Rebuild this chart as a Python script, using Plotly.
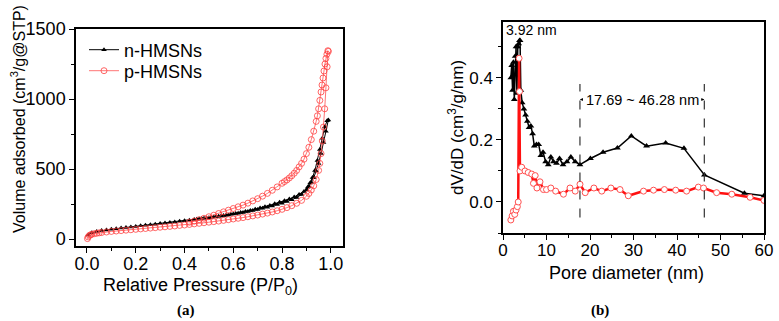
import plotly.graph_objects as go

# ---------- (a) N2 isotherms ----------
n_ads_p = [0.005, 0.02, 0.04, 0.06, 0.08, 0.10, 0.12, 0.14, 0.16, 0.18, 0.20, 0.22, 0.24, 0.26, 0.28,
           0.30, 0.32, 0.34, 0.36, 0.38, 0.40, 0.42, 0.44, 0.46, 0.48, 0.50, 0.52, 0.54, 0.56, 0.58,
           0.60, 0.62, 0.64, 0.66, 0.68, 0.70, 0.72, 0.74, 0.76, 0.78, 0.80, 0.82, 0.84, 0.86, 0.88,
           0.90, 0.91, 0.92, 0.93, 0.94, 0.95, 0.96, 0.97, 0.98, 0.99]
n_ads_v = [28, 45, 54, 60, 65, 70, 74, 78, 82, 86, 90, 94, 98, 102, 106,
           110, 114, 118, 122, 126, 130, 134, 139, 143, 148, 152, 157, 162, 167, 172,
           178, 184, 190, 197, 204, 211, 219, 227, 236, 246, 256, 267, 280, 296, 318,
           350, 375, 405, 440, 485, 540, 610, 690, 770, 850]
n_des_p = [0.985, 0.975, 0.965, 0.955, 0.945, 0.935, 0.925, 0.915, 0.905, 0.89, 0.87, 0.85, 0.83,
           0.81, 0.79, 0.77, 0.75, 0.73, 0.71, 0.69, 0.67, 0.65, 0.63, 0.61, 0.59, 0.57, 0.55,
           0.53, 0.51, 0.49, 0.47, 0.45]
n_des_v = [845, 800, 720, 640, 560, 490, 440, 400, 370, 340, 318, 300, 286,
           273, 262, 251, 240, 230, 221, 212, 204, 196, 189, 182, 176, 170, 165,
           160, 155, 150, 146, 141]

p_ads_p = [0.002, 0.005, 0.01, 0.015, 0.02, 0.03, 0.04, 0.05, 0.06, 0.08, 0.10, 0.12, 0.14, 0.16,
           0.18, 0.20, 0.22, 0.24, 0.26, 0.28, 0.30, 0.32, 0.34, 0.36, 0.38, 0.40, 0.42, 0.44,
           0.46, 0.48, 0.50, 0.52, 0.54, 0.56, 0.58, 0.60, 0.62, 0.64, 0.66, 0.68, 0.70, 0.72,
           0.74, 0.76, 0.78, 0.80, 0.82, 0.84, 0.86, 0.88, 0.90, 0.91, 0.92, 0.93, 0.94, 0.95,
           0.955, 0.96, 0.965, 0.97, 0.975, 0.98, 0.985, 0.99]
p_ads_v = [3, 15, 25, 30, 34, 38, 41, 44, 46, 50, 54, 57, 60, 63,
           66, 69, 72, 75, 78, 81, 84, 87, 90, 93, 97, 100, 104, 108,
           112, 116, 120, 124, 128, 133, 138, 143, 148, 153, 159, 165, 171, 178,
           185, 193, 202, 212, 224, 238, 255, 276, 305, 325, 350, 380, 425, 490,
           540, 610, 700, 800, 930, 1080, 1230, 1340]
p_des_p = [0.988, 0.984, 0.98, 0.976, 0.972, 0.968, 0.964, 0.96, 0.955, 0.95, 0.945, 0.94, 0.93,
           0.92, 0.91, 0.90, 0.89, 0.88, 0.87, 0.86, 0.85, 0.84, 0.83, 0.82, 0.81, 0.80, 0.78,
           0.76, 0.74, 0.72, 0.70, 0.68, 0.66, 0.64, 0.62, 0.60, 0.58, 0.56, 0.54, 0.52, 0.50,
           0.48, 0.46, 0.44, 0.42]
p_des_v = [1345, 1320, 1290, 1250, 1200, 1150, 1100, 1050, 990, 930, 880, 840, 770,
           710, 655, 610, 570, 540, 515, 490, 470, 452, 436, 422, 410, 398, 372,
           348, 326, 306, 288, 272, 256, 242, 230, 218, 206, 194, 182, 170, 159,
           148, 138, 128, 120]

# ---------- (b) pore size distribution ----------
n_psd_d = [1.8, 2.0, 2.2, 2.4, 2.6, 2.8, 3.0, 3.2, 3.4, 3.6, 3.8, 3.92, 4.1, 4.4, 4.8, 5.2, 5.6,
           6.0, 6.4, 6.8, 7.2, 7.7, 8.2, 8.7, 9.2, 9.8, 10.4, 11.0, 11.6, 12.3, 13.0, 13.8,
           14.7, 15.6, 16.6, 17.69, 20.1, 23.0, 26.3, 29.5, 33.0, 37.4, 41.6, 46.3, 55.5, 60.0]
n_psd_v = [0.40, 0.44, 0.36, 0.45, 0.33, 0.47, 0.50, 0.35, 0.50, 0.51, 0.52, 0.52, 0.36, 0.32,
           0.30, 0.28, 0.26, 0.24, 0.245, 0.22, 0.18, 0.185, 0.185, 0.15, 0.16, 0.13, 0.12,
           0.145, 0.13, 0.125, 0.14, 0.12, 0.13, 0.145, 0.13, 0.12, 0.14, 0.16, 0.174, 0.213,
           0.18, 0.19, 0.173, 0.087, 0.028, 0.02]
p_psd_d = [1.8, 2.1, 2.4, 2.7, 3.0, 3.3, 3.5, 3.7, 3.8, 3.9, 4.3, 5.06, 5.8, 6.6, 7.0, 7.4, 7.8,
           8.5, 9.3, 10.0, 11.0, 12.1, 13.9, 15.4, 16.6, 17.7, 18.9, 20.9, 22.7, 24.8, 26.9,
           28.8, 32.3, 34.6, 37.1, 39.7, 42.2, 44.9, 46.1, 49.1, 52.6, 56.8, 60.0]
p_psd_v = [-0.058, -0.045, -0.03, -0.04, -0.026, -0.015, 0.0, 0.463, 0.356, 0.10, 0.112, 0.10,
           0.095, 0.09, 0.06, 0.085, 0.045, 0.065, 0.04, 0.04, 0.045, 0.035, 0.025, 0.045,
           0.035, 0.057, 0.03, 0.045, 0.035, 0.045, 0.04, 0.02, 0.035, 0.038, 0.04, 0.038,
           0.035, 0.048, 0.045, 0.03, 0.025, 0.015, 0.005]

range_lo, range_hi = 17.69, 46.28

FONT = "Liberation Sans, Arial, sans-serif"
W, H = 779, 321
fig = go.Figure()

fig.add_trace(go.Scatter(x=n_ads_p + n_des_p, y=n_ads_v + n_des_v, name="n-HMSNs",
                         mode="lines+markers", line=dict(color="black", width=1),
                         marker=dict(symbol="triangle-up", size=5, color="black"),
                         xaxis="x", yaxis="y", legend="legend"))
fig.add_trace(go.Scatter(x=p_ads_p + p_des_p, y=p_ads_v + p_des_v, name="p-HMSNs",
                         mode="lines+markers", line=dict(color="#ff5050", width=0.8),
                         marker=dict(symbol="circle-open", size=6, color="#ff4040",
                                     line=dict(width=0.8)),
                         xaxis="x", yaxis="y", legend="legend2"))

fig.add_trace(go.Scatter(x=n_psd_d, y=n_psd_v, mode="lines+markers", showlegend=False,
                         line=dict(color="black", width=1.5),
                         marker=dict(symbol="triangle-up", size=6, color="black"),
                         xaxis="x2", yaxis="y2"))
fig.add_trace(go.Scatter(x=p_psd_d, y=p_psd_v, mode="lines+markers", showlegend=False,
                         line=dict(color="#ff1010", width=2.5),
                         marker=dict(symbol="circle", size=6, color="white",
                                     line=dict(color="#ff5050", width=1)),
                         xaxis="x2", yaxis="y2"))


def ax_style(size):
    return dict(showline=True, linecolor="black", linewidth=1.5, mirror=True,
                ticks="outside", ticklen=5, tickwidth=1.2, tickcolor="black",
                showgrid=False, zeroline=False, automargin=False,
                tickfont=dict(family=FONT, size=size, color="black"))


legend_common = dict(xanchor="left", yanchor="middle", bgcolor="rgba(0,0,0,0)",
                     font=dict(family=FONT, size=18, color="black"), itemwidth=30)

fig.update_layout(
    width=W, height=H,
    margin=dict(l=0, r=0, t=0, b=0, autoexpand=False),
    paper_bgcolor="white", plot_bgcolor="white",
    font=dict(family=FONT, size=18, color="black"),
    xaxis=dict(domain=[76/W, 343/W], range=[-0.045, 1.05], anchor="y",
               tickvals=[0, 0.2, 0.4, 0.6, 0.8, 1.0], ticktext=["0.0", "0.2", "0.4", "0.6", "0.8", "1.0"],
               minor=dict(ticks="outside", ticklen=3, dtick=0.1, tick0=0, tickcolor="black"),
               ticklabelstandoff=-4, **ax_style(18)),
    yaxis=dict(domain=[1-246/H, 1-29/H], range=[-50, 1500], anchor="x",
               tickvals=[0, 500, 1000, 1500],
               minor=dict(ticks="outside", ticklen=3, dtick=250, tick0=0, tickcolor="black"),
               **ax_style(18)),
    xaxis2=dict(domain=[503/W, 764/W], range=[0, 60], anchor="y2",
                tickvals=[0, 10, 20, 30, 40, 50, 60],
                minor=dict(ticks="outside", ticklen=3, dtick=5, tick0=0, tickcolor="black"),
                ticklabelstandoff=-4, **ax_style(17)),
    yaxis2=dict(domain=[1-233/H, 1-22/H], range=[-0.1, 0.58], anchor="x2",
                tickvals=[0.0, 0.2, 0.4], ticktext=["0.0", "0.2", "0.4"],
                minor=dict(ticks="outside", ticklen=3, dtick=0.1, tick0=0, tickcolor="black"),
                title=dict(text="dV/dD (cm<sup>3</sup>/g/nm)", standoff=1,
                           font=dict(family=FONT, size=17, color="black")), **ax_style(17)),
    legend=dict(x=84/W, y=1-50/H, **legend_common),
    legend2=dict(x=84/W, y=1-71/H, **legend_common),
)

# axis titles placed as in the reference
fig.add_annotation(xref="paper", yref="paper", x=18/W, y=1-119/H, xanchor="center", yanchor="middle",
                   text="Volume adsorbed (cm<sup>3</sup>/g@STP)", textangle=-90, showarrow=False,
                   font=dict(family=FONT, size=16, color="black"))
fig.add_annotation(xref="paper", yref="paper", x=200/W, y=1-286/H, xanchor="center", yanchor="middle",
                   text="Relative Pressure (P/P<sub>0</sub>)", showarrow=False,
                   font=dict(family=FONT, size=18, color="black"))
fig.add_annotation(xref="paper", yref="paper", x=626/W, y=1-273/H, xanchor="center", yanchor="middle",
                   text="Pore diameter (nm)", showarrow=False,
                   font=dict(family=FONT, size=18, color="black"))

for xv in (range_lo, range_hi):
    fig.add_shape(type="line", xref="x2", yref="y2", x0=xv, x1=xv, y0=-0.05, y1=0.38,
                  line=dict(color="#333333", width=1.2, dash="dash"))

fig.add_annotation(xref="x2", yref="y2", x=(range_lo + range_hi) / 2, y=0.33,
                   text=f"{range_lo:.2f} ~ {range_hi:.2f} nm", showarrow=False,
                   font=dict(family=FONT, size=14.5, color="black"))
fig.add_annotation(xref="x2", yref="y2", x=range_lo, y=0.33, axref="x2", ayref="y2",
                   ax=range_lo + 1.0, ay=0.33, text="", showarrow=True,
                   arrowhead=2, arrowsize=0.6, arrowwidth=1, arrowcolor="black")
fig.add_annotation(xref="x2", yref="y2", x=range_hi, y=0.33, axref="x2", ayref="y2",
                   ax=range_hi - 1.0, ay=0.33, text="", showarrow=True,
                   arrowhead=2, arrowsize=0.6, arrowwidth=1, arrowcolor="black")
fig.add_annotation(xref="x2", yref="y2", x=0.2, y=0.555, xanchor="left",
                   text="3.92 nm", showarrow=False,
                   font=dict(family=FONT, size=14, color="black"))

fig.add_annotation(xref="paper", yref="paper", x=175/W, y=1-310/H, yanchor="middle",
                   text="<b>(a)</b>", showarrow=False,
                   font=dict(family="Liberation Serif, serif", size=15, color="black"))
fig.add_annotation(xref="paper", yref="paper", x=611/W, y=1-310/H, yanchor="middle",
                   text="<b>(b)</b>", showarrow=False,
                   font=dict(family="Liberation Serif, serif", size=15, color="black"))

fig.write_html("out.html", config={"displayModeBar": False},
               post_script="document.body.style.margin='0';document.body.style.padding='0';")
